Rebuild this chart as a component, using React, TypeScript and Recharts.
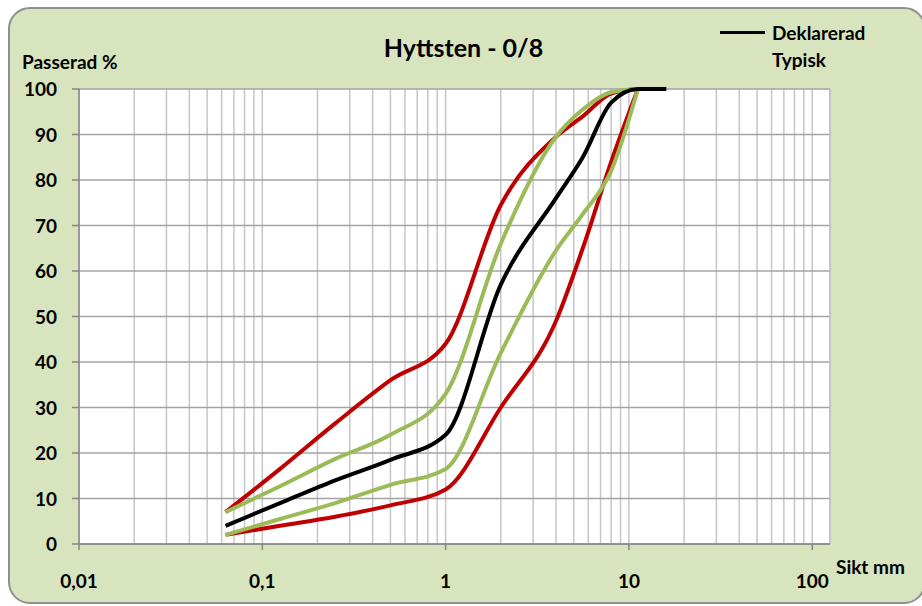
import React from "react";
import {
  LineChart,
  Line,
  XAxis,
  YAxis,
  CartesianGrid,
  ReferenceLine,
} from "recharts";

// sieve sizes (mm) and passing percentages
const SIEVES = [0.063, 0.125, 0.25, 0.5, 1, 2, 4, 5.6, 8, 11.2, 16];
const DEKLARERAD = [4, 9, 14, 18.5, 24, 57, 76, 85, 97, 100, 100];
const LIMIT_UPPER = [7, 16.5, 26.5, 36, 44, 74.5, 89.5, 94, 99, 100, null];
const LIMIT_LOWER = [2, 4, 6, 8.5, 12, 30, 49, 65, 84, 100, null];
const TYPISK_UPPER = [7, 12.7, 18.7, 24, 33, 66, 89.5, 95.5, 99.3, 100, null];
const TYPISK_LOWER = [2, 5.5, 9, 13, 16.5, 42, 64.5, 72.5, 82, 100, null];

const X_DECADES = [0.01, 0.1, 1, 10, 100];
const X_TICK_LABELS = ["0,01", "0,1", "1", "10", "100"];
const MINOR_STEPS = [2, 3, 4, 5, 6, 7, 8, 9];
const Y_TICKS = [0, 10, 20, 30, 40, 50, 60, 70, 80, 90, 100];

const data = SIEVES.map((s, i) => ({
  sikt: s,
  deklarerad: DEKLARERAD[i],
  upper: LIMIT_UPPER[i],
  lower: LIMIT_LOWER[i],
  typUpper: TYPISK_UPPER[i],
  typLower: TYPISK_LOWER[i],
}));

const xTicks = [
  ...X_DECADES,
  ...X_DECADES.slice(0, 4).flatMap((d) => MINOR_STEPS.map((m) => m * d)),
].sort((a, b) => a - b);

const FONT = "Lato, 'Liberation Sans', sans-serif";
const AXIS = "#868686";

const XTick = (props: any) => {
  const { x, y, payload } = props;
  const i = X_DECADES.indexOf(payload.value);
  if (i < 0) return <g />;
  return (
    <g>
      <line x1={x} x2={x} y1={y} y2={y + 6} stroke={AXIS} strokeWidth={1.5} />
      <text
        x={x}
        y={y + 44}
        textAnchor="middle"
        fontFamily={FONT}
        fontWeight={700}
        fontSize={19}
        fill="#000"
      >
        {X_TICK_LABELS[i]}
      </text>
    </g>
  );
};

const YTick = (props: any) => {
  const { x, y, payload } = props;
  return (
    <g>
      <line x1={x - 7} x2={x} y1={y} y2={y} stroke={AXIS} strokeWidth={1.5} />
      <text
        x={x - 22}
        y={y + 7}
        textAnchor="end"
        fontFamily={FONT}
        fontWeight={700}
        fontSize={19}
        fill="#000"
      >
        {payload.value}
      </text>
    </g>
  );
};

const label: React.CSSProperties = {
  position: "absolute",
  fontFamily: FONT,
  fontWeight: 700,
  fontSize: 19,
  lineHeight: "20px",
  color: "#000",
  whiteSpace: "nowrap",
};

export default function App() {
  return (
    <div
      style={{
        position: "absolute",
        left: 8,
        top: 7,
        width: 914,
        height: 599,
        overflow: "hidden",
      }}
    >
      <div
        style={{
          position: "absolute",
          left: 0,
          top: 0,
          width: 918,
          height: 597,
          boxSizing: "border-box",
          border: "2px solid #8f8f8f",
          borderRadius: 22,
          background: "#d7e4bd",
        }}
      />

      <div style={{ position: "absolute", left: 0, top: 0 }}>
        <LineChart
          width={914}
          height={599}
          data={data}
          margin={{ top: 82, right: 92, bottom: 12, left: 11 }}
        >
          <CartesianGrid
            horizontal={false}
            stroke="#c6c6c6"
            strokeWidth={1.5}
            fill="#ffffff"
          />
          <CartesianGrid vertical={false} stroke="#a3a3a3" strokeWidth={1.5} />
          <XAxis
            dataKey="sikt"
            type="number"
            scale="log"
            domain={[0.01, 125]}
            allowDataOverflow
            ticks={xTicks}
            interval={0}
            tickLine={false}
            tickSize={0}
            tickMargin={0}
            tick={<XTick />}
            axisLine={{ stroke: AXIS, strokeWidth: 1.5 }}
            height={50}
          />
          <YAxis
            type="number"
            domain={[0, 100]}
            ticks={Y_TICKS}
            interval={0}
            tickLine={false}
            tickSize={0}
            tickMargin={0}
            tick={<YTick />}
            axisLine={{ stroke: AXIS, strokeWidth: 1.5 }}
            width={60}
          />
          <ReferenceLine x={125} stroke="#c0c0c0" strokeWidth={1.5} />
          <Line
            dataKey="upper"
            type="monotone"
            stroke="#c00000"
            strokeWidth={4}
            dot={false}
            isAnimationActive={false}
          />
          <Line
            dataKey="lower"
            type="monotone"
            stroke="#c00000"
            strokeWidth={4}
            dot={false}
            isAnimationActive={false}
          />
          <Line
            dataKey="typUpper"
            type="monotone"
            stroke="#9bbb59"
            strokeWidth={4}
            dot={false}
            isAnimationActive={false}
          />
          <Line
            dataKey="typLower"
            type="monotone"
            stroke="#9bbb59"
            strokeWidth={4}
            dot={false}
            isAnimationActive={false}
          />
          <Line
            dataKey="deklarerad"
            type="monotone"
            stroke="#000000"
            strokeWidth={4}
            dot={false}
            isAnimationActive={false}
          />
        </LineChart>
      </div>

      <div
        style={{
          ...label,
          fontSize: 25,
          lineHeight: "28px",
          left: 0,
          width: 911,
          top: 26,
          textAlign: "center",
        }}
      >
        Hyttsten - 0/8
      </div>
      <div style={{ ...label, left: 14, top: 45 }}>Passerad %</div>
      <div style={{ ...label, left: 828, top: 550 }}>Sikt mm</div>

      <div style={{ position: "absolute", left: 712, top: 24, width: 45, height: 3, background: "#000" }} />
      <div style={{ ...label, left: 764, top: 16 }}>Deklarerad</div>
      <div style={{ ...label, left: 764, top: 43 }}>Typisk</div>
    </div>
  );
}
